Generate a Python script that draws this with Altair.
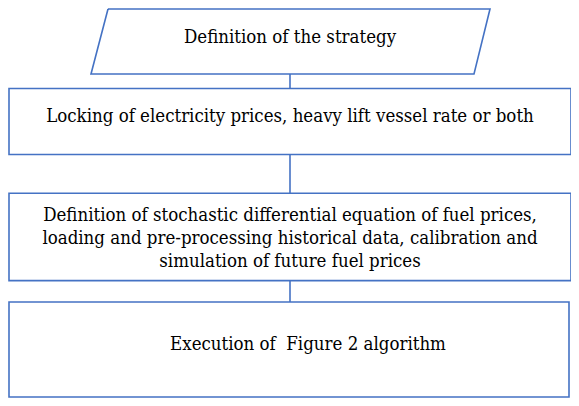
import altair as alt
import pandas as pd

# Flowchart content (coordinates, in pixels)
labels = [
    "Definition of the strategy",
    "Locking of electricity prices, heavy lift vessel rate or both",
    "Definition of stochastic differential equation of fuel prices,\nloading and pre-processing historical data, calibration and\nsimulation of future fuel prices",
    "Execution of\u00a0 Figure 2 algorithm",
]
label_x = [295, 295, 295, 313]
label_y = [37, 118, 221, 354]

# rectangular process boxes
box_left = [14, 14, 14]
box_right = [576, 576, 574]
box_top = [84, 192, 304]
box_bottom = [152, 282, 402]

# parallelogram (start node) vertices, closed
para_x = [113, 495, 479, 96, 113]
para_y = [2, 2, 69, 69, 2]

# vertical connectors
conn_x = [295, 295, 295]
conn_y1 = [69, 152, 282]
conn_y2 = [84, 192, 304]

BLUE = "#4472C4"
FONT = "DejaVu Serif Condensed"
xs = alt.Scale(domain=[13, 576], nice=False, zero=False)
ys = alt.Scale(domain=[1, 403], nice=False, zero=False, reverse=True)

boxes = pd.DataFrame({"l": box_left, "r": box_right, "t": box_top, "b": box_bottom})
para = pd.DataFrame({"x": para_x, "y": para_y, "o": list(range(len(para_x)))})
conns = pd.DataFrame({"x": conn_x, "y1": conn_y1, "y2": conn_y2})
texts = pd.DataFrame({"t": labels, "x": label_x, "y": label_y})

rects = alt.Chart(boxes).mark_rect(fillOpacity=0, stroke=BLUE, strokeWidth=1.6).encode(
    x=alt.X("l:Q", scale=xs, axis=None),
    x2="r:Q",
    y=alt.Y("t:Q", scale=ys, axis=None),
    y2="b:Q",
)

pline = alt.Chart(para).mark_line(color=BLUE, strokeWidth=1.6).encode(
    x=alt.X("x:Q", scale=xs, axis=None),
    y=alt.Y("y:Q", scale=ys, axis=None),
    order="o:Q",
)

rules = alt.Chart(conns).mark_rule(color=BLUE, strokeWidth=1.6).encode(
    x=alt.X("x:Q", scale=xs, axis=None),
    y=alt.Y("y1:Q", scale=ys, axis=None),
    y2="y2:Q",
)

txt = alt.Chart(texts).transform_calculate(
    lines="split(datum.t, '\\n')"
).mark_text(
    font=FONT, fontSize=18.5, color="black", align="center",
    baseline="alphabetic", lineHeight=23,
).encode(
    x=alt.X("x:Q", scale=xs, axis=None),
    y=alt.Y("y:Q", scale=ys, axis=None),
    text="lines:N",
)

chart = alt.layer(rects, pline, rules, txt).properties(
    width=563, height=390, padding=0, autosize=alt.AutoSizeParams(type="none"),
    background="white",
).configure_view(strokeWidth=0)

chart.save("out.html", embed_options={"renderer": "svg", "actions": False})
